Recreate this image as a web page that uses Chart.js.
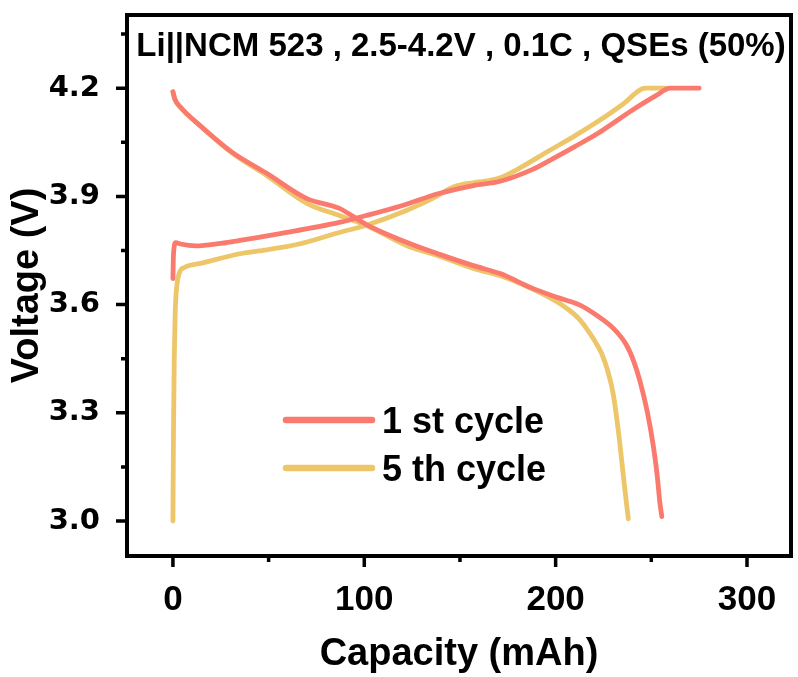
<!DOCTYPE html>
<html>
<head>
<meta charset="utf-8">
<script src="https://cdn.jsdelivr.net/npm/chart.js@4.4.0/dist/chart.umd.min.js"></script>
<style>
  html, body { margin: 0; padding: 0; background: #fff; }
  #wrap { width: 798px; height: 677px; }
</style>
</head>
<body>
<div id="wrap"><canvas id="myChart" width="798" height="677"></canvas></div>
<script>
// 1st cycle (charge / discharge)
const cap1Charge = [0, 0.3, 1.5, 4, 12, 25, 35, 56, 87, 101, 120, 139, 157, 171, 188, 197, 210, 223, 240, 252, 260, 268, 275];
const volt1Charge = [3.672, 3.74, 3.772, 3.768, 3.763, 3.77, 3.778, 3.797, 3.828, 3.847, 3.875, 3.908, 3.93, 3.942, 3.975, 4.0, 4.038, 4.078, 4.139, 4.178, 4.2, 4.2, 4.2];
const cap1Discharge = [0, 1, 4, 14, 31, 49, 70, 87, 101, 122, 139, 157, 171, 188, 202, 213, 221, 230, 237, 241, 244, 248, 251, 253, 254.5, 255.5];
const volt1Discharge = [4.19, 4.17, 4.147, 4.097, 4.022, 3.964, 3.894, 3.867, 3.822, 3.773, 3.74, 3.708, 3.686, 3.645, 3.618, 3.598, 3.572, 3.535, 3.488, 3.44, 3.389, 3.3, 3.21, 3.13, 3.05, 3.012];

// 5th cycle (charge / discharge)
const cap5Charge = [0, 0.3, 0.7, 1.2, 2, 3.5, 6, 15, 35, 49, 66, 87, 101, 122, 136, 146, 153, 160, 171, 180, 197, 210, 223, 235, 247, 252, 258];
const volt5Charge = [3.0, 3.25, 3.45, 3.58, 3.65, 3.69, 3.703, 3.715, 3.741, 3.752, 3.768, 3.8, 3.82, 3.861, 3.895, 3.925, 3.935, 3.94, 3.952, 3.975, 4.028, 4.068, 4.111, 4.155, 4.2, 4.2, 4.2];
const cap5Discharge = [0, 1, 4, 14, 31, 49, 70, 87, 101, 122, 139, 157, 171, 186, 200, 207, 212, 216, 220, 224, 227, 230, 233, 235.5, 237, 238];
const volt5Discharge = [4.19, 4.17, 4.147, 4.097, 4.02, 3.958, 3.881, 3.847, 3.82, 3.764, 3.735, 3.7, 3.68, 3.648, 3.61, 3.585, 3.562, 3.535, 3.503, 3.465, 3.42, 3.355, 3.24, 3.12, 3.05, 3.006];

const seriesNames = ['1 st cycle', '5 th cycle'];
const seriesColors = ['#FA7A6E', '#EDC66A'];

const xMajorTicks = [0, 100, 200, 300];
const xMinorTicks = [50, 150, 250];
const yMajorTicks = [3.0, 3.3, 3.6, 3.9, 4.2];
const yMinorTicks = [3.15, 3.45, 3.75, 4.05, 4.35];

const chartTitle = 'Li||NCM 523 , 2.5-4.2V , 0.1C , QSEs (50%)';

function pts(xs, ys) {
    return xs.map((v, i) => ({ x: v, y: ys[i] }));
}

function lineSet(label, xs, ys, color) {
    return {
        label: label,
        data: pts(xs, ys),
        showLine: true,
        borderColor: color,
        backgroundColor: color,
        borderWidth: 4.8,
        pointRadius: 0,
        cubicInterpolationMode: 'monotone',
        borderCapStyle: 'round',
        borderJoinStyle: 'round'
    };
}

const fontFam = '"Liberation Sans", Arial, sans-serif';

// frame, tick marks, inner title and legend
const framePlugin = {
    id: 'framePlugin',
    afterDraw(chart) {
        const { ctx, chartArea: a } = chart;
        const x = chart.scales.x, y = chart.scales.y;
        ctx.save();
        ctx.strokeStyle = '#000';
        ctx.lineWidth = 4;
        ctx.lineCap = 'butt';
        ctx.strokeRect(a.left, a.top, a.right - a.left, a.bottom - a.top);

        ctx.lineWidth = 3.5;
        ctx.beginPath();
        xMajorTicks.forEach(v => { const p = x.getPixelForValue(v); ctx.moveTo(p, a.bottom); ctx.lineTo(p, a.bottom + 11); });
        xMinorTicks.forEach(v => { const p = x.getPixelForValue(v); ctx.moveTo(p, a.bottom); ctx.lineTo(p, a.bottom + 6); });
        yMajorTicks.forEach(v => { const p = y.getPixelForValue(v); ctx.moveTo(a.left, p); ctx.lineTo(a.left - 11, p); });
        yMinorTicks.forEach(v => { const p = y.getPixelForValue(v); ctx.moveTo(a.left, p); ctx.lineTo(a.left - 6, p); });
        ctx.stroke();

        // title inside plot
        ctx.fillStyle = '#000';
        ctx.font = 'bold 33px ' + fontFam;
        ctx.textAlign = 'center';
        ctx.textBaseline = 'alphabetic';
        ctx.fillText(chartTitle, (a.left + a.right) / 2 + 2, 56);

        // legend
        ctx.font = 'bold 36px ' + fontFam;
        ctx.textAlign = 'left';
        seriesNames.forEach((name, i) => {
            const ly = 420 + i * 48;
            ctx.strokeStyle = seriesColors[i];
            ctx.lineWidth = 6.5;
            ctx.lineCap = 'round';
            ctx.beginPath();
            ctx.moveTo(286, ly);
            ctx.lineTo(372, ly);
            ctx.stroke();
            ctx.fillStyle = '#000';
            ctx.fillText(name, 382, ly + 13);
        });
        ctx.restore();
    }
};

const ctx1 = document.getElementById('myChart').getContext('2d');
const myChart = new Chart(ctx1, {
    type: 'scatter',
    data: {
        datasets: [
            lineSet(seriesNames[0], cap1Charge, volt1Charge, seriesColors[0]),
            lineSet(seriesNames[0], cap1Discharge, volt1Discharge, seriesColors[0]),
            lineSet(seriesNames[1], cap5Charge, volt5Charge, seriesColors[1]),
            lineSet(seriesNames[1], cap5Discharge, volt5Discharge, seriesColors[1])
        ]
    },
    options: {
        responsive: false,
        animation: false,
        layout: { padding: { top: 15, right: 7, left: 0, bottom: 0 } },
        plugins: {
            legend: { display: false },
            tooltip: { enabled: false }
        },
        scales: {
            x: {
                type: 'linear',
                min: -24,
                max: 323,
                grid: { display: false },
                border: { display: false },
                afterBuildTicks: s => { s.ticks = xMajorTicks.map(v => ({ value: v })); },
                afterFit: s => { s.height = 121; s.paddingLeft = 0; s.paddingRight = 0; },
                ticks: {
                    color: '#000',
                    padding: 15,
                    maxRotation: 0,
                    font: { family: fontFam, size: 35, weight: 'bold' }
                },
                title: {
                    display: true,
                    text: 'Capacity (mAh)',
                    color: '#000',
                    padding: { top: 0, bottom: 0 },
                    font: { family: fontFam, size: 38, weight: 'bold', lineHeight: 1.2 }
                }
            },
            y: {
                type: 'linear',
                min: 2.903,
                max: 4.403,
                grid: { display: false },
                border: { display: false },
                afterBuildTicks: s => { s.ticks = yMajorTicks.map(v => ({ value: v })); },
                afterFit: s => { s.width = 127; s.paddingTop = 0; s.paddingBottom = 0; },
                ticks: {
                    color: '#000',
                    padding: 19,
                    callback: v => Number(v).toFixed(1),
                    font: { family: '"DejaVu Sans", sans-serif', size: 29, weight: 'bold' }
                },
                title: {
                    display: true,
                    text: 'Voltage (V)',
                    color: '#000',
                    padding: { top: 5, bottom: 0 },
                    font: { family: fontFam, size: 38, weight: 'bold', lineHeight: 1.2 }
                }
            }
        }
    },
    plugins: [framePlugin]
});
</script>
</body>
</html>
